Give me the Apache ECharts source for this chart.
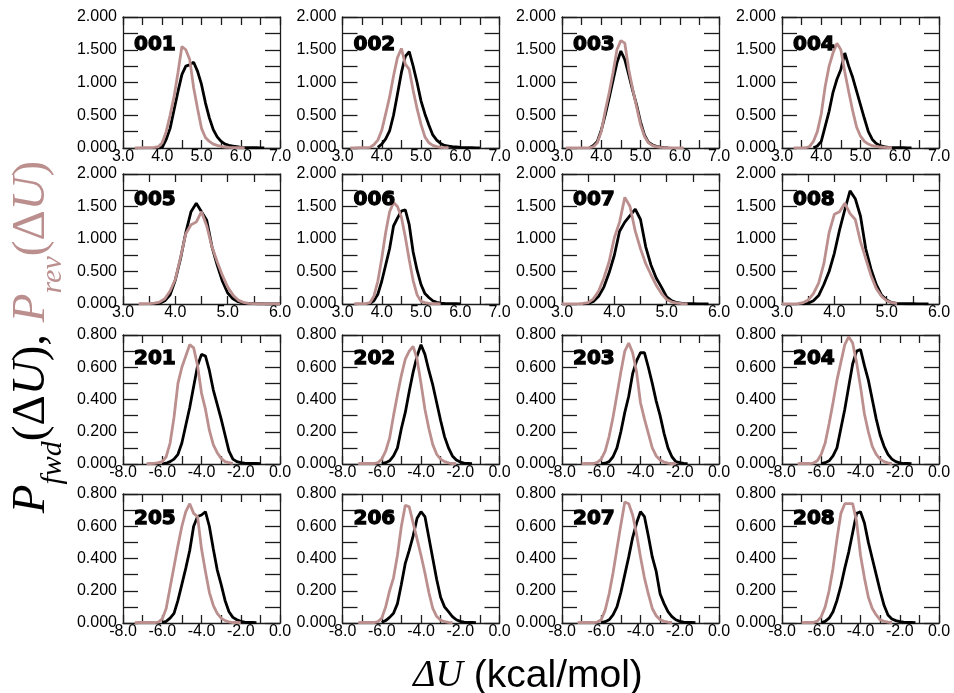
<!DOCTYPE html>
<html>
<head>
<meta charset="utf-8">
<script src="https://cdn.jsdelivr.net/npm/echarts@6/dist/echarts.min.js"></script>
<style>
  html, body { margin: 0; padding: 0; background: #fff; }
  #chart { width: 954px; height: 693px; }
</style>
</head>
<body>
<div id="chart"></div>
<script>
// Histogram bin centres (kcal/mol)
const binsTop = [
  3.0, 3.1, 3.2, 3.3, 3.4, 3.5, 3.6, 3.7, 3.8, 3.9,
  4.0, 4.1, 4.2, 4.3, 4.4, 4.5, 4.6, 4.7, 4.8, 4.9,
  5.0, 5.1, 5.2, 5.3, 5.4, 5.5, 5.6, 5.7, 5.8, 5.9,
  6.0, 6.1, 6.2, 6.3, 6.4, 6.5, 6.6, 6.7, 6.8
];
const binsLow = [
  -7.6, -7.4, -7.2,
  -7.0, -6.8, -6.6, -6.4, -6.2,
  -6.0, -5.8, -5.6, -5.4, -5.2,
  -5.0, -4.8, -4.6, -4.4, -4.2,
  -4.0, -3.8, -3.6, -3.4, -3.2,
  -3.0, -2.8, -2.6, -2.4, -2.2,
  -2.0, -1.8, -1.6, -1.4, -1.2,
  -1.0, -0.8
];

// P_fwd / P_rev on binsTop  (rows: 3.0-3.9 | 4.0-4.9 | 5.0-5.9 | 6.0-6.8)
const fwd001 = [
  null, null, null, null, null, null, null, null, null, 0.0,
  0.01, 0.13, 0.3, 0.58, 0.86, 1.12, 1.25, 1.27, 1.31, 1.17,
  0.97, 0.69, 0.46, 0.28, 0.17, 0.1, 0.06, 0.04, 0.03, 0.02,
  0.01, 0.006, 0.005, 0.004, 0.004, 0.003, 0.003, null, null];
const rev001 = [
  null, null, null, 0.002, 0.003, 0.004, 0.005, 0.005, 0.01, 0.02,
  0.08, 0.25, 0.5, 0.78, 1.15, 1.55, 1.5, 1.35, 0.92, 0.6,
  0.3, 0.16, 0.1, 0.06, 0.04, 0.025, 0.015, 0.01, 0.006, 0.005,
  0.004, 0.003, null, null, null, null, null, null, null];
const fwd002 = [
  null, null, null, null, null, null, null, null, null, 0.01,
  0.06, 0.14, 0.26, 0.5, 0.82, 1.15, 1.4, 1.47, 1.25, 1.0,
  0.72, 0.52, 0.35, 0.2, 0.12, 0.07, 0.04, 0.03, 0.02, 0.015,
  0.01, 0.006, 0.005, 0.004, 0.003, 0.003, null, null, null];
const rev002 = [
  null, null, 0.002, 0.003, 0.004, 0.005, 0.006, 0.01, 0.05, 0.12,
  0.27, 0.52, 0.78, 1.1, 1.38, 1.52, 1.28, 1.2, 0.88, 0.6,
  0.36, 0.17, 0.08, 0.04, 0.02, 0.01, 0.006, 0.004, null, null,
  null, null, null, null, null, null, null, null, null];
const fwd003 = [
  null, null, null, null, null, null, null, 0.005, 0.04, 0.1,
  0.27, 0.5, 0.76, 1.03, 1.3, 1.48, 1.35, 1.12, 0.88, 0.66,
  0.4, 0.2, 0.09, 0.05, 0.025, 0.015, 0.008, 0.005, null, null,
  null, null, null, null, null, null, null, null, null];
const rev003 = [
  null, 0.002, 0.003, 0.003, 0.003, 0.003, 0.003, 0.005, 0.02, 0.08,
  0.25, 0.56, 0.84, 1.15, 1.5, 1.64, 1.6, 1.2, 0.9, 0.63,
  0.36, 0.18, 0.08, 0.04, 0.02, 0.01, 0.005, 0.004, 0.003, 0.003,
  0.003, 0.002, null, null, null, null, null, null, null];
const fwd004 = [
  null, null, null, null, null, null, null, null, 0.005, 0.03,
  0.1, 0.33, 0.56, 0.85, 1.05, 1.2, 1.45, 1.25, 1.08, 0.87,
  0.66, 0.45, 0.25, 0.13, 0.07, 0.035, 0.02, 0.01, 0.006, 0.005,
  0.004, 0.004, 0.003, 0.003, null, null, null, null, null];
const rev004 = [
  null, null, null, 0.002, 0.003, 0.003, 0.004, 0.02, 0.1, 0.25,
  0.52, 0.94, 1.25, 1.45, 1.6, 1.5, 1.16, 0.86, 0.57, 0.32,
  0.18, 0.1, 0.06, 0.035, 0.025, 0.015, 0.01, 0.005, 0.004, null,
  null, null, null, null, null, null, null, null, null];
const fwd005 = [
  null, null, null, null, null, null, 0.003, 0.01, 0.05, 0.14,
  0.37, 0.7, 1.1, 1.42, 1.55, 1.42, 1.29, 0.88, 0.6, 0.35,
  0.17, 0.08, 0.035, 0.015, 0.008, 0.005, 0.004, 0.003, 0.003, 0.003,
  0.002, null, null, null, null, null, null, null, null];
const rev005 = [
  null, null, null, 0.004, 0.005, 0.006, 0.015, 0.03, 0.08, 0.2,
  0.38, 0.72, 1.08, 1.22, 1.26, 1.42, 1.2, 0.88, 0.65, 0.44,
  0.26, 0.14, 0.06, 0.025, 0.01, 0.005, 0.004, 0.003, 0.003, 0.003,
  0.003, null, null, null, null, null, null, null, null];
const fwd006 = [
  null, null, null, null, null, null, 0.003, 0.01, 0.05, 0.15,
  0.35, 0.6, 0.85, 1.2, 1.32, 1.43, 1.45, 1.22, 0.8, 0.52,
  0.3, 0.16, 0.1, 0.05, 0.025, 0.012, 0.008, 0.006, 0.005, 0.004,
  0.003, null, null, null, null, null, null, null, null];
const rev006 = [
  null, null, null, 0.004, 0.005, 0.005, 0.006, 0.02, 0.12, 0.35,
  0.7, 1.1, 1.42, 1.56, 1.5, 1.34, 1.03, 0.68, 0.36, 0.14,
  0.04, 0.02, 0.01, 0.005, 0.004, 0.003, null, null, null, null,
  null, null, null, null, null, null, null, null, null];
const fwd007 = [
  null, null, null, null, 0.003, 0.01, 0.04, 0.12, 0.26, 0.48,
  0.75, 1.12, 1.26, 1.36, 1.46, 1.3, 0.88, 0.6, 0.4, 0.26,
  0.11, 0.05, 0.02, 0.01, 0.005, 0.004, 0.003, 0.003, 0.002, null,
  null, null, null, null, null, null, null, null, null];
const rev007 = [
  0.002, 0.003, 0.003, 0.003, 0.008, 0.02, 0.08, 0.2, 0.4, 0.65,
  1.02, 1.26, 1.64, 1.5, 1.12, 0.85, 0.62, 0.45, 0.29, 0.16,
  0.07, 0.03, 0.012, 0.005, 0.003, null, null, null, null, null,
  null, null, null, null, null, null, null, null, null];
const fwd008 = [
  null, null, null, null, 0.003, 0.01, 0.05, 0.13, 0.3, 0.5,
  0.78, 1.14, 1.45, 1.74, 1.62, 1.35, 0.85, 0.54, 0.3, 0.14,
  0.06, 0.02, 0.01, 0.005, 0.004, 0.004, 0.003, 0.003, 0.003, null,
  null, null, null, null, null, null, null, null, null];
const rev008 = [
  0.002, 0.003, 0.003, 0.004, 0.02, 0.06, 0.16, 0.32, 0.62, 1.1,
  1.38, 1.42, 1.55, 1.39, 1.3, 0.96, 0.7, 0.44, 0.24, 0.12,
  0.05, 0.02, 0.005, null, null, null, null, null, null, null,
  null, null, null, null, null, null, null, null, null];

// P_fwd / P_rev on binsLow
const fwd201 = [
  null, null, null,
  null, null, null, null, null,
  0.001, 0.005, 0.015, 0.03, 0.06,
  0.13, 0.24, 0.35, 0.48, 0.61,
  0.68, 0.67, 0.58, 0.46, 0.37,
  0.28, 0.18, 0.08, 0.03, 0.015,
  0.008, 0.005, 0.003, 0.003, 0.003,
  0.002, null];
const rev201 = [
  null, null, null,
  null, 0.002, 0.003, 0.004, 0.008,
  0.015, 0.045, 0.13, 0.29, 0.5,
  0.6, 0.67, 0.74, 0.72, 0.61,
  0.44, 0.34, 0.21, 0.12, 0.07,
  0.035, 0.015, 0.008, 0.004, null,
  null, null, null, null, null,
  null, null];
const fwd202 = [
  null, null, null,
  null, null, null, null, null,
  0.002, 0.008, 0.02, 0.05, 0.1,
  0.22, 0.32, 0.45, 0.57, 0.67,
  0.74, 0.68, 0.58, 0.49, 0.38,
  0.27, 0.17, 0.1, 0.05, 0.025,
  0.012, 0.006, 0.004, 0.002, null,
  null, null];
const rev202 = [
  null, null, 0.002,
  0.003, 0.003, 0.003, 0.003, 0.008,
  0.03, 0.08, 0.16, 0.3, 0.43,
  0.55, 0.65, 0.7, 0.73, 0.65,
  0.5, 0.34, 0.22, 0.12, 0.06,
  0.03, 0.015, 0.007, 0.003, 0.002,
  null, null, null, null, null,
  null, null];
const fwd203 = [
  null, null, null,
  null, null, null, null, null,
  0.002, 0.005, 0.015, 0.045, 0.1,
  0.2, 0.32, 0.42, 0.56, 0.64,
  0.69, 0.69, 0.6, 0.5, 0.39,
  0.3, 0.19, 0.1, 0.045, 0.015,
  0.008, 0.004, 0.002, null, null,
  null, null];
const rev203 = [
  null, null, null,
  0.002, 0.003, 0.003, 0.003, 0.01,
  0.03, 0.08, 0.17, 0.29, 0.43,
  0.57, 0.7, 0.75, 0.69, 0.57,
  0.38, 0.28, 0.19, 0.1, 0.05,
  0.025, 0.012, 0.006, 0.003, 0.002,
  null, null, null, null, null,
  null, null];
const fwd204 = [
  null, null, null,
  null, null, null, null, null,
  0.002, 0.008, 0.02, 0.05, 0.1,
  0.22, 0.34, 0.48, 0.62, 0.7,
  0.71, 0.61, 0.52, 0.4, 0.28,
  0.18, 0.11, 0.06, 0.03, 0.015,
  0.007, 0.003, 0.003, 0.002, null,
  null, null];
const rev204 = [
  null, null, 0.002,
  0.003, 0.003, 0.003, 0.006, 0.02,
  0.06, 0.13, 0.25, 0.38, 0.52,
  0.63, 0.74, 0.79, 0.75, 0.63,
  0.48, 0.31, 0.2, 0.11, 0.06,
  0.03, 0.015, 0.007, 0.003, null,
  null, null, null, null, null,
  null, null];
const fwd205 = [
  null, null, null,
  null, null, null, null, null,
  0.002, 0.01, 0.03, 0.06, 0.14,
  0.24, 0.34, 0.45, 0.6, 0.66,
  0.67, 0.69, 0.6, 0.46, 0.33,
  0.24, 0.14, 0.07, 0.035, 0.02,
  0.01, 0.005, 0.003, 0.003, 0.002,
  null, null];
const rev205 = [
  null, 0.002, 0.003,
  0.003, 0.003, 0.003, 0.003, 0.006,
  0.025, 0.09, 0.22, 0.35, 0.48,
  0.6, 0.69, 0.74, 0.68, 0.66,
  0.46, 0.32, 0.19, 0.11, 0.06,
  0.03, 0.015, 0.007, 0.003, 0.003,
  0.002, null, null, null, null,
  null, null];
const fwd206 = [
  null, null, null,
  null, null, null, null, null,
  0.003, 0.015, 0.035, 0.06, 0.12,
  0.24, 0.37, 0.45, 0.54, 0.65,
  0.69, 0.66, 0.53, 0.4, 0.27,
  0.16, 0.1, 0.07, 0.04, 0.02,
  0.01, 0.006, 0.003, 0.003, 0.002,
  null, null];
const rev206 = [
  null, null, 0.002,
  0.003, 0.003, 0.003, 0.003, 0.008,
  0.03, 0.1, 0.2, 0.28, 0.42,
  0.6, 0.73, 0.72, 0.62, 0.52,
  0.42, 0.31, 0.19, 0.09, 0.04,
  0.018, 0.008, 0.004, 0.002, null,
  null, null, null, null, null,
  null, null];
const fwd207 = [
  null, null, null,
  null, null, null, null, null,
  0.002, 0.008, 0.02, 0.05, 0.1,
  0.19, 0.3, 0.41, 0.53, 0.62,
  0.69, 0.66, 0.54, 0.41, 0.32,
  0.18, 0.12, 0.07, 0.04, 0.02,
  0.01, 0.005, 0.003, 0.003, 0.002,
  null, null];
const rev207 = [
  null, null, 0.002,
  0.003, 0.003, 0.003, 0.003, 0.006,
  0.02, 0.08, 0.18, 0.31, 0.46,
  0.61, 0.75, 0.74, 0.67, 0.55,
  0.41, 0.28, 0.18, 0.09, 0.045,
  0.02, 0.01, 0.005, 0.003, null,
  null, null, null, null, null,
  null, null];
const fwd208 = [
  null, null, null,
  null, null, null, null, null,
  0.002, 0.01, 0.03, 0.07, 0.14,
  0.23, 0.34, 0.44, 0.56, 0.68,
  0.69, 0.62, 0.5, 0.4, 0.3,
  0.2, 0.11, 0.05, 0.025, 0.015,
  0.008, 0.005, 0.003, 0.003, 0.002,
  null, null];
const rev208 = [
  null, null, null,
  0.002, 0.003, 0.003, 0.003, 0.012,
  0.04, 0.1, 0.2, 0.34, 0.52,
  0.68, 0.74, 0.74, 0.74, 0.63,
  0.42, 0.28, 0.16, 0.09, 0.05,
  0.02, 0.01, 0.005, 0.003, null,
  null, null, null, null, null,
  null, null];

// Panel labels, in reading order
const panelNames = ['001', '002', '003', '004', '005', '006', '007', '008',
                    '201', '202', '203', '204', '205', '206', '207', '208'];
const fwdSets = [fwd001, fwd002, fwd003, fwd004, fwd005, fwd006, fwd007, fwd008,
                 fwd201, fwd202, fwd203, fwd204, fwd205, fwd206, fwd207, fwd208];
const revSets = [rev001, rev002, rev003, rev004, rev005, rev006, rev007, rev008,
                 rev201, rev202, rev203, rev204, rev205, rev206, rev207, rev208];
// Upper limit of the ΔU axis in the first two rows
const xMaxTop = [7, 7, 7, 7, 6, 7, 6, 6];

// Layout of the 4 x 4 panel grid (px)
const COL_LEFT = [123, 342.5, 562, 782];
const ROW_TOP = [17, 174, 335, 494];
const ROW_H = [131, 130, 129, 129];
const PANEL_W = 157;
const TITLE_DY = [27.5, 25.7, 24, 24.7];

const FRAME = '#1c1c1c';
const FWD_COLOR = '#000000';
const REV_COLOR = '#bc8f8f';

function onStep(v, base, step) {
  const k = (v - base) / step;
  return Math.abs(k - Math.round(k)) < 1e-6;
}

function makeAxis(dim, gridIndex, position, min, max, interval, labelStep, digits, showLabel) {
  const isX = dim === 'x';
  return {
    type: 'value', gridIndex, position, min, max, interval,
    axisLine: { show: true, onZero: false, lineStyle: { color: FRAME, width: 1.3 } },
    axisTick: { show: true, inside: true, length: isX ? 8 : 15,
                lineStyle: { color: FRAME, width: 1.3 } },
    axisLabel: {
      show: showLabel, margin: isX ? 1 : 6, fontSize: 16,
      fontFamily: 'Liberation Sans', color: '#000',
      showMinLabel: true, showMaxLabel: true,
      formatter: v => onStep(v, min, labelStep) ? Number(v).toFixed(digits) : ''
    },
    splitLine: { show: false },
    minorTick: { show: false }
  };
}

const grids = [], xAxes = [], yAxes = [], series = [], graphics = [];

panelNames.forEach((name, i) => {
  const r = Math.floor(i / 4), c = i % 4;
  const upper = r < 2;
  grids.push({ left: COL_LEFT[c], top: ROW_TOP[r], width: PANEL_W, height: ROW_H[r],
               containLabel: false, outerBoundsMode: 'none' });

  const xMin = upper ? 3 : -8;
  const xMax = upper ? xMaxTop[i] : 0;
  const xInt = upper ? 0.5 : 1;
  const xLab = upper ? 1 : 2;
  const yMax = upper ? 2 : 0.8;
  const yInt = upper ? 0.25 : 0.1;
  const yLab = upper ? 0.5 : 0.2;

  xAxes.push(makeAxis('x', i, 'bottom', xMin, xMax, xInt, xLab, 1, true));
  xAxes.push(makeAxis('x', i, 'top', xMin, xMax, xInt, xLab, 1, false));
  yAxes.push(makeAxis('y', i, 'left', 0, yMax, yInt, yLab, 3, true));
  yAxes.push(makeAxis('y', i, 'right', 0, yMax, yInt, yLab, 3, false));

  const bins = upper ? binsTop : binsLow;
  const toPairs = vals => bins.map((x, k) => [x, vals[k]]);
  const common = {
    type: 'line', xAxisIndex: 2 * i, yAxisIndex: 2 * i,
    showSymbol: false, symbol: 'none', clip: true, silent: true,
    connectNulls: false, animation: false
  };
  series.push(Object.assign({}, common, {
    name: 'fwd ' + name, data: toPairs(fwdSets[i]),
    lineStyle: { color: FWD_COLOR, width: 2.8 }, itemStyle: { color: FWD_COLOR }
  }));
  series.push(Object.assign({}, common, {
    name: 'rev ' + name, data: toPairs(revSets[i]),
    lineStyle: { color: REV_COLOR, width: 2.8 }, itemStyle: { color: REV_COLOR }
  }));

  graphics.push({
    type: 'text', silent: true, z: 100,
    x: COL_LEFT[c] + 11, y: ROW_TOP[r] + TITLE_DY[r],
    style: { text: name, fill: '#000', stroke: '#000', lineWidth: 1.3,
             font: 'bold 20px "DejaVu Sans"',
             textVerticalAlign: 'middle', verticalAlign: 'middle' }
  });
});

// Vertical axis title: P_fwd(ΔU), P_rev(ΔU)
const serif = '"Liberation Serif", "DejaVu Serif", serif';
const MAIN_FS = 47, SUB_FS = 30;
graphics.push({
  type: 'text', silent: true, z: 100,
  x: 32, y: 337, rotation: Math.PI / 2,
  style: {
    text: '{pi|P}{sb|fwd}{ro|(Δ}{it|U}{ro|),\u00a0}{piR|P}{sbR|rev}{roR|(Δ}{itR|U}{roR|)}',
    align: 'center', verticalAlign: 'middle', textAlign: 'center', textVerticalAlign: 'middle',
    rich: {
      pi:  { fontFamily: serif, fontStyle: 'italic', fontSize: MAIN_FS, fill: FWD_COLOR },
      it:  { fontFamily: serif, fontStyle: 'italic', fontSize: MAIN_FS, fill: FWD_COLOR },
      ro:  { fontFamily: serif, fontSize: MAIN_FS, fill: FWD_COLOR },
      sb:  { fontFamily: serif, fontStyle: 'italic', fontSize: SUB_FS, fill: FWD_COLOR, padding: [42, 0, 0, 0] },
      piR: { fontFamily: serif, fontStyle: 'italic', fontSize: MAIN_FS, fill: REV_COLOR },
      itR: { fontFamily: serif, fontStyle: 'italic', fontSize: MAIN_FS, fill: REV_COLOR },
      roR: { fontFamily: serif, fontSize: MAIN_FS, fill: REV_COLOR },
      sbR: { fontFamily: serif, fontStyle: 'italic', fontSize: SUB_FS, fill: REV_COLOR, padding: [42, 0, 0, 0] }
    }
  }
});

// Horizontal axis title
graphics.push({
  type: 'text', silent: true, z: 100,
  x: 528, y: 676,
  style: {
    text: '{d|ΔU}{u|\u00a0(kcal/mol)}',
    align: 'center', verticalAlign: 'middle', textAlign: 'center', textVerticalAlign: 'middle',
    rich: {
      d: { fontFamily: serif, fontStyle: 'italic', fontSize: 38, fill: '#000' },
      u: { fontFamily: 'Liberation Sans', fontSize: 39, fill: '#000' }
    }
  }
});

const chart = echarts.init(document.getElementById('chart'), null, { renderer: 'canvas' });
chart.setOption({
  animation: false,
  backgroundColor: '#ffffff',
  textStyle: { fontFamily: 'Liberation Sans' },
  grid: grids,
  xAxis: xAxes,
  yAxis: yAxes,
  series: series,
  graphic: graphics
});
</script>
</body>
</html>
